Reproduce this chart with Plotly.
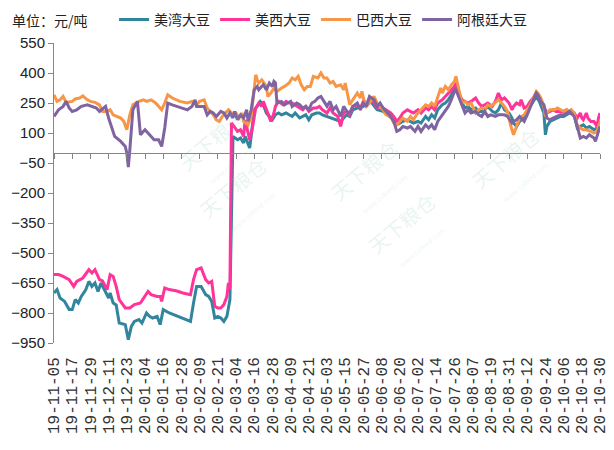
import plotly.graph_objects as go

# tick labels on the date axis (every 12 days)
tick_labels = [
    "19-11-05", "19-11-17", "19-11-29", "19-12-11", "19-12-23", "20-01-04",
    "20-01-16", "20-01-28", "20-02-09", "20-02-21", "20-03-04", "20-03-16",
    "20-03-28", "20-04-09", "20-04-21", "20-05-03", "20-05-15", "20-05-27",
    "20-06-08", "20-06-20", "20-07-02", "20-07-14", "20-07-26", "20-08-07",
    "20-08-19", "20-08-31", "20-09-12", "20-09-24", "20-10-06", "20-10-18",
    "20-10-30",
]

# 美湾大豆
us_gulf_dates = [
    "2019-11-05", "2019-11-07", "2019-11-09", "2019-11-12", "2019-11-15", "2019-11-17",
    "2019-11-19", "2019-11-21", "2019-11-23", "2019-11-26", "2019-11-28", "2019-11-30",
    "2019-12-02", "2019-12-04", "2019-12-06", "2019-12-09", "2019-12-11", "2019-12-12",
    "2019-12-14", "2019-12-16", "2019-12-18", "2019-12-22", "2019-12-24", "2019-12-26",
    "2019-12-28", "2019-12-31", "2020-01-02", "2020-01-05", "2020-01-07", "2020-01-09",
    "2020-01-12", "2020-01-14", "2020-01-16", "2020-01-20", "2020-01-26", "2020-02-03",
    "2020-02-05", "2020-02-07", "2020-02-10", "2020-02-13", "2020-02-15", "2020-02-17",
    "2020-02-19", "2020-02-21", "2020-02-23", "2020-02-25", "2020-02-27", "2020-02-28",
    "2020-02-29", "2020-03-02", "2020-03-05", "2020-03-07", "2020-03-09", "2020-03-10",
    "2020-03-12", "2020-03-13", "2020-03-14", "2020-03-16", "2020-03-18", "2020-03-20",
    "2020-03-22", "2020-03-24", "2020-03-26", "2020-03-28", "2020-03-30", "2020-04-01",
    "2020-04-03", "2020-04-06", "2020-04-08", "2020-04-10", "2020-04-12", "2020-04-15",
    "2020-04-17", "2020-04-19", "2020-04-21", "2020-04-23", "2020-04-26", "2020-04-28",
    "2020-04-30", "2020-05-03", "2020-05-07", "2020-05-12", "2020-05-14", "2020-05-16",
    "2020-05-18", "2020-05-20", "2020-05-23", "2020-05-27", "2020-05-31", "2020-06-05",
    "2020-06-09", "2020-06-14", "2020-06-16", "2020-06-18", "2020-06-20", "2020-06-22",
    "2020-06-25", "2020-06-29", "2020-07-02", "2020-07-04", "2020-07-07", "2020-07-09",
    "2020-07-11", "2020-07-13", "2020-07-15", "2020-07-18", "2020-07-20", "2020-07-22",
    "2020-07-24", "2020-07-26", "2020-07-27", "2020-07-29", "2020-07-31", "2020-08-02",
    "2020-08-04", "2020-08-06", "2020-08-09", "2020-08-11", "2020-08-13", "2020-08-15",
    "2020-08-17", "2020-08-20", "2020-08-22", "2020-08-24", "2020-08-26", "2020-08-28",
    "2020-08-31", "2020-09-02", "2020-09-03", "2020-09-05", "2020-09-07", "2020-09-10",
    "2020-09-12", "2020-09-14", "2020-09-16", "2020-09-18", "2020-09-20", "2020-09-23",
    "2020-09-24", "2020-09-25", "2020-09-27", "2020-09-29", "2020-10-02", "2020-10-04",
    "2020-10-06", "2020-10-08", "2020-10-10", "2020-10-13", "2020-10-15", "2020-10-17",
    "2020-10-19", "2020-10-21", "2020-10-23", "2020-10-26", "2020-10-28", "2020-10-30",
]
us_gulf = [
    -700, -683, -725, -742, -783, -783, -733, -750, -717, -683, -642, -667,
    -650, -692, -650, -700, -725, -700, -750, -760, -850, -858, -933, -867,
    -842, -833, -850, -800, -817, -825, -817, -858, -783, -800, -817, -842,
    -750, -667, -667, -708, -717, -742, -825, -817, -825, -842, -817, -775,
    -733, 83, 66, 75, 50, 83, 41, 25, 83, 216, 233, 258,
    241, 200, 183, 166, 191, 200, 191, 200, 191, 183, 200, 175,
    183, 191, 166, 191, 200, 200, 191, 183, 175, 158, 175, 191,
    183, 216, 225, 233, 266, 216, 208, 175, 166, 141, 150, 158,
    166, 150, 158, 150, 183, 166, 191, 175, 216, 241, 250, 266,
    291, 325, 333, 291, 250, 225, 233, 216, 225, 208, 208, 216,
    233, 208, 200, 216, 250, 216, 200, 175, 150, 133, 158, 175,
    200, 233, 258, 283, 258, 200, 91, 133, 158, 166, 175, 183,
    183, 191, 200, 191, 125, 133, 141, 125, 133, 116, 125, 158,
]

# 美西大豆
us_west_dates = [
    "2019-11-05", "2019-11-08", "2019-11-11", "2019-11-15", "2019-11-18", "2019-11-20",
    "2019-11-24", "2019-11-28", "2019-11-30", "2019-12-02", "2019-12-05", "2019-12-07",
    "2019-12-10", "2019-12-12", "2019-12-14", "2019-12-16", "2019-12-18", "2019-12-22",
    "2019-12-25", "2019-12-28", "2020-01-01", "2020-01-03", "2020-01-06", "2020-01-08",
    "2020-01-12", "2020-01-14", "2020-01-15", "2020-01-17", "2020-01-20", "2020-01-25",
    "2020-01-29", "2020-02-03", "2020-02-05", "2020-02-07", "2020-02-10", "2020-02-13",
    "2020-02-15", "2020-02-17", "2020-02-19", "2020-02-21", "2020-02-23", "2020-02-25",
    "2020-02-27", "2020-02-28", "2020-02-29", "2020-03-01", "2020-03-02", "2020-03-05",
    "2020-03-07", "2020-03-09", "2020-03-10", "2020-03-11", "2020-03-13", "2020-03-15",
    "2020-03-17", "2020-03-19", "2020-03-21", "2020-03-22", "2020-03-24", "2020-03-27",
    "2020-03-29", "2020-03-30", "2020-04-01", "2020-04-04", "2020-04-06", "2020-04-08",
    "2020-04-10", "2020-04-13", "2020-04-15", "2020-04-17", "2020-04-19", "2020-04-21",
    "2020-04-24", "2020-04-26", "2020-04-28", "2020-04-30", "2020-05-03", "2020-05-05",
    "2020-05-07", "2020-05-10", "2020-05-12", "2020-05-14", "2020-05-16", "2020-05-18",
    "2020-05-20", "2020-05-23", "2020-05-25", "2020-05-27", "2020-05-29", "2020-05-31",
    "2020-06-03", "2020-06-05", "2020-06-07", "2020-06-09", "2020-06-11", "2020-06-14",
    "2020-06-16", "2020-06-18", "2020-06-20", "2020-06-22", "2020-06-25", "2020-06-27",
    "2020-06-29", "2020-07-02", "2020-07-04", "2020-07-07", "2020-07-09", "2020-07-11",
    "2020-07-13", "2020-07-15", "2020-07-18", "2020-07-20", "2020-07-22", "2020-07-24",
    "2020-07-26", "2020-07-27", "2020-07-29", "2020-07-31", "2020-08-02", "2020-08-04",
    "2020-08-06", "2020-08-09", "2020-08-11", "2020-08-13", "2020-08-15", "2020-08-17",
    "2020-08-20", "2020-08-22", "2020-08-24", "2020-08-26", "2020-08-28", "2020-08-31",
    "2020-09-02", "2020-09-03", "2020-09-05", "2020-09-07", "2020-09-08", "2020-09-10",
    "2020-09-12", "2020-09-14", "2020-09-16", "2020-09-18", "2020-09-20", "2020-09-23",
    "2020-09-25", "2020-09-27", "2020-09-29", "2020-10-01", "2020-10-04", "2020-10-06",
    "2020-10-08", "2020-10-10", "2020-10-13", "2020-10-15", "2020-10-17", "2020-10-18",
    "2020-10-19", "2020-10-21", "2020-10-22", "2020-10-24", "2020-10-26", "2020-10-28",
    "2020-10-29", "2020-10-30",
]
us_west = [
    -608, -608, -617, -633, -667, -642, -625, -583, -600, -583, -633, -640,
    -683, -608, -617, -667, -733, -775, -775, -758, -750, -725, -692, -708,
    -717, -717, -742, -675, -683, -690, -700, -708, -633, -583, -575, -633,
    -650, -642, -767, -775, -775, -758, -717, -650, -680, 150, 141, 108,
    116, 83, 166, 133, 66, 133, 225, 250, 233, 258, 216, 158,
    200, 233, 258, 241, 258, 250, 250, 233, 225, 216, 233, 208,
    225, 225, 233, 216, 200, 225, 200, 183, 133, 200, 208, 191,
    233, 241, 225, 258, 241, 275, 250, 225, 233, 225, 216, 200,
    183, 158, 175, 200, 216, 208, 200, 216, 200, 225, 216, 233,
    216, 250, 266, 283, 300, 316, 333, 350, 300, 266, 258, 250,
    258, 275, 250, 233, 241, 250, 233, 258, 300, 266, 275, 250,
    216, 233, 250, 241, 266, 225, 233, 258, 275, 300, 275, 225,
    200, 208, 216, 208, 208, 208, 216, 200, 200, 175, 200, 175,
    166, 200, 175, 158, 158, 133, 175, 200,
]

# 巴西大豆
brazil_dates = [
    "2019-11-05", "2019-11-07", "2019-11-09", "2019-11-11", "2019-11-13", "2019-11-17",
    "2019-11-19", "2019-11-22", "2019-11-24", "2019-11-27", "2019-11-29", "2019-12-02",
    "2019-12-05", "2019-12-07", "2019-12-10", "2019-12-12", "2019-12-14", "2019-12-16",
    "2019-12-19", "2019-12-21", "2019-12-23", "2019-12-25", "2019-12-27", "2019-12-31",
    "2020-01-03", "2020-01-05", "2020-01-08", "2020-01-11", "2020-01-13", "2020-01-15",
    "2020-01-17", "2020-01-19", "2020-01-22", "2020-01-25", "2020-01-27", "2020-02-01",
    "2020-02-04", "2020-02-07", "2020-02-09", "2020-02-12", "2020-02-14", "2020-02-16",
    "2020-02-18", "2020-02-20", "2020-02-22", "2020-02-24", "2020-02-26", "2020-02-28",
    "2020-03-02", "2020-03-04", "2020-03-06", "2020-03-08", "2020-03-09", "2020-03-12",
    "2020-03-14", "2020-03-16", "2020-03-17", "2020-03-18", "2020-03-19", "2020-03-21",
    "2020-03-24", "2020-03-25", "2020-03-27", "2020-03-29", "2020-03-31", "2020-04-03",
    "2020-04-05", "2020-04-08", "2020-04-10", "2020-04-12", "2020-04-14", "2020-04-16",
    "2020-04-18", "2020-04-20", "2020-04-22", "2020-04-24", "2020-04-27", "2020-04-29",
    "2020-05-01", "2020-05-03", "2020-05-05", "2020-05-07", "2020-05-09", "2020-05-12",
    "2020-05-14", "2020-05-15", "2020-05-16", "2020-05-18", "2020-05-20", "2020-05-23",
    "2020-05-25", "2020-05-26", "2020-05-27", "2020-05-29", "2020-05-31", "2020-06-03",
    "2020-06-05", "2020-06-07", "2020-06-09", "2020-06-11", "2020-06-14", "2020-06-16",
    "2020-06-18", "2020-06-20", "2020-06-22", "2020-06-25", "2020-06-27", "2020-06-29",
    "2020-07-01", "2020-07-04", "2020-07-07", "2020-07-09", "2020-07-11", "2020-07-13",
    "2020-07-15", "2020-07-17", "2020-07-18", "2020-07-20", "2020-07-22", "2020-07-24",
    "2020-07-26", "2020-07-27", "2020-07-29", "2020-07-31", "2020-08-02", "2020-08-04",
    "2020-08-06", "2020-08-09", "2020-08-11", "2020-08-13", "2020-08-15", "2020-08-17",
    "2020-08-19", "2020-08-22", "2020-08-24", "2020-08-26", "2020-08-28", "2020-08-30",
    "2020-09-01", "2020-09-03", "2020-09-05", "2020-09-07", "2020-09-10", "2020-09-12",
    "2020-09-14", "2020-09-16", "2020-09-18", "2020-09-19", "2020-09-21", "2020-09-23",
    "2020-09-24", "2020-09-25", "2020-09-27", "2020-09-30", "2020-10-02", "2020-10-04",
    "2020-10-06", "2020-10-08", "2020-10-10", "2020-10-11", "2020-10-13", "2020-10-15",
    "2020-10-17", "2020-10-19", "2020-10-21", "2020-10-24", "2020-10-26", "2020-10-28",
    "2020-10-29", "2020-10-30",
]
brazil = [
    291, 258, 266, 283, 253, 258, 270, 275, 286, 266, 258, 253,
    241, 208, 208, 216, 191, 183, 175, 158, 116, 191, 241, 258,
    266, 258, 266, 250, 233, 216, 250, 291, 275, 266, 258, 250,
    258, 241, 258, 266, 225, 208, 191, 166, 158, 183, 200, 216,
    191, 200, 175, 200, 158, 141, 183, 341, 391, 366, 350, 366,
    333, 283, 300, 325, 308, 325, 333, 350, 375, 366, 383, 341,
    316, 333, 333, 383, 375, 400, 375, 375, 350, 358, 333, 341,
    316, 350, 308, 241, 266, 300, 275, 308, 275, 233, 250, 283,
    250, 233, 216, 191, 183, 150, 141, 158, 175, 158, 183, 166,
    191, 216, 241, 233, 250, 233, 283, 325, 300, 333, 316, 341,
    358, 383, 316, 250, 258, 241, 250, 200, 216, 225, 216, 241,
    233, 250, 266, 250, 233, 208, 140, 91, 133, 175, 191, 216,
    241, 275, 308, 300, 275, 233, 183, 200, 216, 216, 225, 216,
    208, 216, 208, 216, 200, 141, 125, 116, 116, 108, 100, 108,
    133, 158,
]

# 阿根廷大豆
argentina_dates = [
    "2019-11-05", "2019-11-08", "2019-11-11", "2019-11-13", "2019-11-15", "2019-11-17",
    "2019-11-20", "2019-11-23", "2019-11-27", "2019-11-30", "2019-12-03", "2019-12-05",
    "2019-12-09", "2019-12-11", "2019-12-13", "2019-12-15", "2019-12-19", "2019-12-22",
    "2019-12-23", "2019-12-24", "2019-12-25", "2019-12-27", "2019-12-30", "2020-01-01",
    "2020-01-02", "2020-01-04", "2020-01-07", "2020-01-10", "2020-01-13", "2020-01-15",
    "2020-01-17", "2020-01-19", "2020-01-22", "2020-01-25", "2020-01-28", "2020-02-01",
    "2020-02-04", "2020-02-06", "2020-02-07", "2020-02-12", "2020-02-14", "2020-02-16",
    "2020-02-18", "2020-02-20", "2020-02-23", "2020-02-25", "2020-02-27", "2020-02-29",
    "2020-03-02", "2020-03-03", "2020-03-05", "2020-03-07", "2020-03-09", "2020-03-11",
    "2020-03-12", "2020-03-14", "2020-03-16", "2020-03-18", "2020-03-19", "2020-03-22",
    "2020-03-24", "2020-03-26", "2020-03-28", "2020-03-29", "2020-03-30", "2020-03-31",
    "2020-04-03", "2020-04-05", "2020-04-07", "2020-04-09", "2020-04-10", "2020-04-13",
    "2020-04-15", "2020-04-17", "2020-04-19", "2020-04-21", "2020-04-23", "2020-04-25",
    "2020-04-27", "2020-04-29", "2020-05-01", "2020-05-03", "2020-05-05", "2020-05-07",
    "2020-05-09", "2020-05-12", "2020-05-14", "2020-05-16", "2020-05-18", "2020-05-20",
    "2020-05-23", "2020-05-25", "2020-05-27", "2020-05-29", "2020-05-31", "2020-06-03",
    "2020-06-05", "2020-06-07", "2020-06-09", "2020-06-11", "2020-06-14", "2020-06-16",
    "2020-06-18", "2020-06-20", "2020-06-22", "2020-06-25", "2020-06-27", "2020-06-29",
    "2020-06-30", "2020-07-02", "2020-07-04", "2020-07-07", "2020-07-09", "2020-07-11",
    "2020-07-13", "2020-07-15", "2020-07-18", "2020-07-20", "2020-07-22", "2020-07-24",
    "2020-07-26", "2020-07-27", "2020-07-29", "2020-07-31", "2020-08-02", "2020-08-04",
    "2020-08-06", "2020-08-09", "2020-08-11", "2020-08-13", "2020-08-15", "2020-08-17",
    "2020-08-19", "2020-08-22", "2020-08-24", "2020-08-26", "2020-08-28", "2020-08-30",
    "2020-09-02", "2020-09-03", "2020-09-05", "2020-09-07", "2020-09-10", "2020-09-12",
    "2020-09-14", "2020-09-16", "2020-09-18", "2020-09-19", "2020-09-21", "2020-09-23",
    "2020-09-25", "2020-09-27", "2020-09-29", "2020-10-02", "2020-10-04", "2020-10-06",
    "2020-10-08", "2020-10-10", "2020-10-11", "2020-10-13", "2020-10-15", "2020-10-17",
    "2020-10-19", "2020-10-21", "2020-10-23", "2020-10-26", "2020-10-27", "2020-10-28",
    "2020-10-29", "2020-10-30",
]
argentina = [
    183, 216, 233, 258, 225, 208, 216, 233, 241, 233, 225, 208,
    233, 175, 133, 83, 58, 33, 0, -70, 16, 216, 258, 91,
    100, 116, 91, 66, 66, 33, 125, 250, 241, 233, 225, 216,
    233, 266, 233, 233, 191, 208, 200, 183, 208, 200, 175, 200,
    175, 208, 166, 190, 175, 216, 158, 216, 316, 333, 316, 341,
    316, 350, 333, 358, 350, 250, 258, 241, 250, 258, 233, 250,
    241, 225, 233, 216, 250, 258, 275, 283, 258, 233, 258, 216,
    233, 183, 233, 208, 200, 233, 250, 216, 250, 233, 283, 266,
    233, 250, 225, 208, 183, 158, 108, 116, 133, 125, 133, 116,
    108, 133, 108, 141, 125, 141, 116, 158, 191, 208, 233, 266,
    308, 316, 275, 233, 200, 216, 200, 208, 191, 183, 208, 183,
    191, 183, 191, 191, 191, 183, 150, 158, 166, 183, 158, 191,
    233, 266, 300, 291, 258, 241, 175, 166, 175, 183, 191, 191,
    200, 208, 200, 183, 133, 75, 83, 75, 91, 75, 58, 83,
    108, 133,
]

series = [
    ("美湾大豆", us_gulf_dates, us_gulf, "#31859C"),
    ("美西大豆", us_west_dates, us_west, "#FF3399"),
    ("巴西大豆", brazil_dates, brazil, "#F79646"),
    ("阿根廷大豆", argentina_dates, argentina, "#8064A2"),
]

tick_vals = ["20" + t for t in tick_labels]
x_range = [tick_vals[0], tick_vals[-1]]
y_min, y_max = -950, 550
cjk = "Noto Sans CJK SC"
num_font = "Liberation Sans Narrow, Arial Narrow, Liberation Sans"

fig = go.Figure()
for name, dates, values, color in series:
    fig.add_trace(
        go.Scatter(
            x=dates,
            y=values,
            name=name,
            mode="lines",
            line={"color": color, "width": 3},
        )
    )

# dummy trace so the zero-line axis gets drawn
fig.add_trace(
    go.Scatter(x=x_range, y=[0, 0], xaxis="x2", mode="lines", line={"width": 0},
               showlegend=False, hoverinfo="skip")
)

# faint watermark
for wx, wy in [(0.21, 0.81), (0.58, 0.71), (0.93, 0.59), (0.25, 0.33), (0.65, 0.21)]:
    fig.add_annotation(
        text="天下粮仓<br><span style='font-size:7px'>www.cofeed.com</span>",
        xref="paper", yref="paper", x=wx, y=wy, showarrow=False, textangle=-40,
        font={"family": cjk, "size": 20, "color": "rgba(110,190,150,0.16)"},
    )

fig.add_annotation(
    text="单位：元/吨", xref="paper", yref="paper", x=-0.08, y=1.077,
    xanchor="left", yanchor="middle", showarrow=False,
    font={"family": cjk, "size": 14, "color": "#222222"},
)

# the page body adds an 8px offset, so the figure is 8px smaller than the window
fig.update_layout(
    width=606,
    height=442,
    margin={"l": 46, "r": 14, "t": 35, "b": 107, "autoexpand": False},
    paper_bgcolor="white",
    plot_bgcolor="white",
    showlegend=True,
    legend={
        "orientation": "h",
        "x": 0.11,
        "y": 1.077,
        "xanchor": "left",
        "yanchor": "middle",
        "font": {"family": cjk, "size": 14, "color": "#222222"},
        "itemwidth": 30,
        "tracegroupgap": 0,
        "borderwidth": 0,
        "bgcolor": "rgba(0,0,0,0)",
    },
    xaxis={
        "type": "date",
        "range": x_range,
        "tickvals": tick_vals,
        "ticktext": tick_labels,
        "tickangle": -90,
        "showgrid": False,
        "zeroline": False,
        "showline": False,
        "ticks": "",
        "ticklabelstandoff": 10,
        "automargin": False,
        "tickfont": {"family": "Liberation Mono", "size": 16, "color": "#333333"},
    },
    xaxis2={
        "type": "date",
        "range": x_range,
        "overlaying": "x",
        "anchor": "free",
        "position": (0 - y_min) / (y_max - y_min),
        "tickvals": tick_vals,
        "showticklabels": False,
        "ticks": "outside",
        "ticklen": 5,
        "tickcolor": "#868686",
        "showline": True,
        "linecolor": "#868686",
        "linewidth": 1,
        "showgrid": False,
        "zeroline": False,
    },
    yaxis={
        "range": [y_min, y_max],
        "tick0": y_min,
        "dtick": 150,
        "showgrid": False,
        "zeroline": False,
        "showline": True,
        "linecolor": "#868686",
        "linewidth": 1,
        "ticks": "outside",
        "ticklen": 5,
        "tickcolor": "#868686",
        "automargin": False,
        "tickfont": {"family": num_font, "size": 15, "color": "#222222"},
    },
)

fig.write_html("out.html")
